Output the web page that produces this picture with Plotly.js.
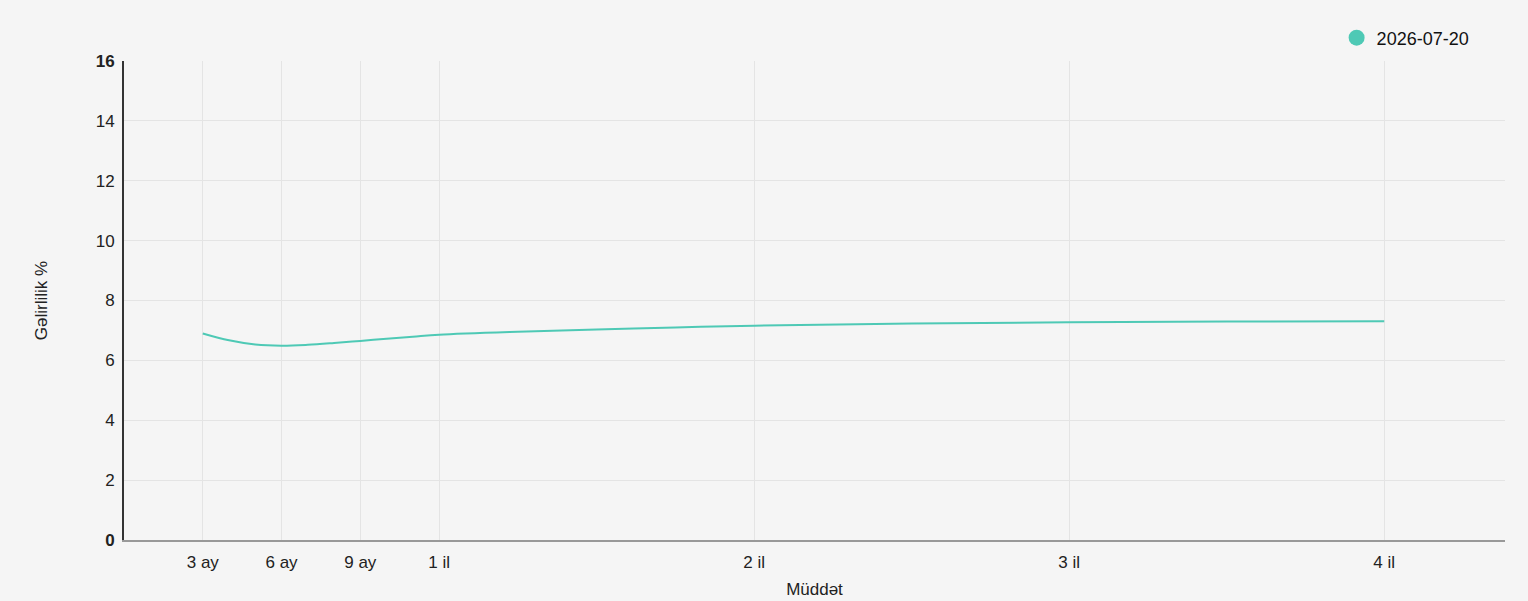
<!DOCTYPE html>
<html>
<head>
<meta charset="utf-8">
<script src="https://cdn.plot.ly/plotly-3.0.1.min.js"></script>
<style>
  html, body { margin: 0; padding: 0; background: #f5f5f5; }
  #chart { width: 1528px; height: 601px; }
</style>
</head>
<body>
<div id="chart"></div>
<script>
// Yield curve - maturities in months
const maturities = [3, 4, 5, 6, 7, 8, 9, 10, 11, 12, 15, 18, 21, 24, 30, 36, 42, 48];
const yields = [6.90, 6.67, 6.53, 6.49, 6.52, 6.58, 6.65, 6.72, 6.79, 6.86, 6.96, 7.03, 7.10, 7.16, 7.23, 7.27, 7.295, 7.31];
const seriesName = '2026-07-20';

const xTickVals = [3, 6, 9, 12, 24, 36, 48];
const xTickText = ['3 ay', '6 ay', '9 ay', '1 il', '2 il', '3 il', '4 il'];
const yTickVals = [0, 2, 4, 6, 8, 10, 12, 14, 16];
const yTickText = ['<b>0</b>', '2', '4', '6', '8', '10', '12', '14', '<b>16</b>'];

const lineColor = '#4ec9b5';

const curve = {
    x: maturities,
    y: yields,
    type: 'scatter',
    mode: 'lines',
    line: { color: lineColor, width: 2, shape: 'spline', smoothing: 1 },
    showlegend: false,
    hoverinfo: 'skip'
};

// legend-only entry with a round marker
const legendEntry = {
    x: [null],
    y: [null],
    type: 'scatter',
    mode: 'markers',
    name: seriesName,
    marker: { color: lineColor, size: 17, symbol: 'circle' }
};

const layout = {
    width: 1528,
    height: 601,
    paper_bgcolor: '#f5f5f5',
    plot_bgcolor: '#f5f5f5',
    font: { family: 'Liberation Sans, Arial, sans-serif', size: 18, color: '#222' },
    margin: { l: 124, r: 23, t: 61, b: 61 },
    showlegend: true,
    legend: {
        orientation: 'h',
        x: 0.978, xanchor: 'right',
        y: 1.048, yanchor: 'middle',
        bgcolor: 'rgba(0,0,0,0)',
        font: { size: 18, color: '#111' }
    },
    xaxis: {
        range: [0, 52.6],
        tickvals: xTickVals,
        ticktext: xTickText,
        showgrid: true,
        gridcolor: '#e4e4e4',
        gridwidth: 1,
        zeroline: false,
        showline: true,
        linecolor: '#999',
        linewidth: 2,
        ticks: 'outside',
        ticklen: 6,
        tickcolor: 'rgba(0,0,0,0)',
        tickfont: { size: 17 },
        title: { text: 'Müddət', font: { size: 17, color: '#222' }, standoff: 12 }
    },
    yaxis: {
        range: [0, 16],
        tickvals: yTickVals,
        ticktext: yTickText,
        showgrid: true,
        gridcolor: '#e4e4e4',
        gridwidth: 1,
        zeroline: false,
        showline: true,
        linecolor: '#333',
        linewidth: 2,
        ticks: 'outside',
        ticklen: 4,
        tickcolor: 'rgba(0,0,0,0)',
        tickfont: { size: 17 },
        title: { text: 'Gəlirlilik %', font: { size: 17, color: '#222' }, standoff: 44 }
    }
};

Plotly.newPlot('chart', [curve, legendEntry], layout, { displayModeBar: false, staticPlot: true });
</script>
</body>
</html>
